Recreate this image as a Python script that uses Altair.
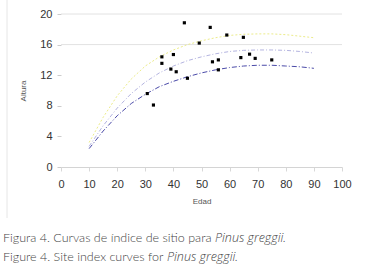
import altair as alt
import pandas as pd

# Observed data (Edad, Altura)
obs_edad = [30.7, 32.9, 35.9, 35.9, 39.1, 40.0, 41.0, 43.9, 45.0, 49.2,
            53.1, 53.9, 56.0, 56.0, 59.0, 64.0, 64.9, 67.1, 69.1, 75.0]
obs_altura = [9.6, 8.1, 14.4, 13.55, 12.8, 14.7, 12.45, 18.85, 11.6, 16.2,
              18.25, 13.75, 14.0, 12.7, 17.25, 14.3, 16.95, 14.75, 14.2, 14.0]

# Site index curves
curva_edad = [10, 15, 20, 25, 30, 35, 40, 45, 50, 55, 60, 65, 70, 75, 80, 85, 90]
curva_alta = [3.2, 6.5, 9.3, 11.5, 13.2, 14.4, 15.3, 16.0, 16.5, 16.9, 17.2, 17.35, 17.4, 17.4, 17.3, 17.1, 16.9]
curva_media = [2.7, 5.4, 7.7, 9.6, 11.1, 12.3, 13.2, 13.9, 14.4, 14.8, 15.1, 15.25, 15.3, 15.3, 15.25, 15.1, 14.9]
curva_baja = [2.4, 4.7, 6.7, 8.3, 9.5, 10.5, 11.2, 11.8, 12.3, 12.7, 13.0, 13.2, 13.3, 13.3, 13.2, 13.1, 12.9]
curva_nombres = ["alta", "media", "baja"]

x_ticks = [0, 10, 20, 30, 40, 50, 60, 70, 80, 90, 100]
y_ticks = [0, 4, 8, 12, 16, 20]
grid_vals = [16, 20]

caption1_a = ["Figura 4. Curvas de índice de sitio para"]
caption1_b = ["Pinus greggii."]
caption2_a = ["Figure 4. Site index curves for"]
caption2_b = ["Pinus greggii."]

curves = pd.DataFrame({
    "Edad": curva_edad * 3,
    "Altura": curva_alta + curva_media + curva_baja,
    "Curva": [curva_nombres[0]] * len(curva_edad) + [curva_nombres[1]] * len(curva_edad) + [curva_nombres[2]] * len(curva_edad),
})
obs = pd.DataFrame({"Edad": obs_edad, "Altura": obs_altura})

x_scale = alt.Scale(domain=[0, 100], nice=False)
y_scale = alt.Scale(domain=[0, 20], nice=False)

x_axis = alt.Axis(values=x_ticks, labelFontSize=11, labelFont="Liberation Sans", labelColor="#333",
                  tickSize=4, tickColor="#d8d8d8", domainColor="#d4d4d4", grid=False,
                  labelOverlap=False, labelFlush=False,
                  labelPadding=7, title="Edad", titleFontSize=8, titleFontWeight="normal",
                  titleColor="#555", titleY=34, titleBaseline="middle", titleFont="Liberation Sans")
y_axis = alt.Axis(values=y_ticks, labelFontSize=11, labelFont="Liberation Sans", labelColor="#333",
                  tickSize=4, tickColor="#cccccc", domain=False, grid=False, labelPadding=5,
                  labelOverlap=False, labelFlush=False,
                  title="Altura", titleFontSize=8, titleFontWeight="normal", titleColor="#555",
                  titleX=-38, titleY=76.5, titleAngle=270, titleAlign="center",
                  titleBaseline="middle", titleFont="Liberation Sans")

grid = alt.Chart(pd.DataFrame({"g": grid_vals})).mark_rule(color="#e2e2e2", strokeWidth=1).encode(
    y=alt.Y("g:Q", scale=y_scale, axis=y_axis, title="Altura")
)

lines = alt.Chart(curves).mark_line(strokeWidth=1).encode(
    x=alt.X("Edad:Q", scale=x_scale, axis=x_axis),
    y=alt.Y("Altura:Q", scale=y_scale, axis=y_axis),
    color=alt.Color("Curva:N", scale=alt.Scale(domain=curva_nombres, range=["#ecec8a", "#b4b4e0", "#4a4aa8"]), legend=None),
    strokeDash=alt.StrokeDash("Curva:N", scale=alt.Scale(domain=curva_nombres, range=[[2, 2], [4, 2, 1, 2], [5, 2, 1, 2]]), legend=None),
)

points = alt.Chart(obs).mark_square(size=10, color="black", opacity=1).encode(
    x=alt.X("Edad:Q", scale=x_scale, axis=x_axis),
    y=alt.Y("Altura:Q", scale=y_scale, axis=y_axis),
)

frame = alt.Chart(pd.DataFrame({"a": [0]})).mark_rule(color="#e6e6e6", strokeWidth=1).encode(
    x=alt.value(-54), y=alt.value(-14), y2=alt.value(204)
)

def cap(text, x, y, italic=False):
    return alt.Chart(pd.DataFrame({"t": text})).mark_text(
        align="left", baseline="middle",
        font="Open Sans" if italic else "Lato",
        fontSize=12.5, fontWeight=300,
        fontStyle="italic" if italic else "normal", color="#444"
    ).encode(text="t:N", x=alt.value(x), y=alt.value(y))

captions = (cap(caption1_a, -58, 224) + cap(caption1_b, 154, 224, True) +
            cap(caption2_a, -58, 243) + cap(caption2_b, 106, 243, True))

chart = alt.layer(grid, frame, lines, points, captions).properties(
    width=281, height=153,
    autosize=alt.AutoSizeParams(type="none"),
    padding={"left": 61, "top": 14, "right": 25, "bottom": 106},
).configure_view(stroke=None)

chart.save("out.html", embed_options={"renderer": "svg", "actions": False})
